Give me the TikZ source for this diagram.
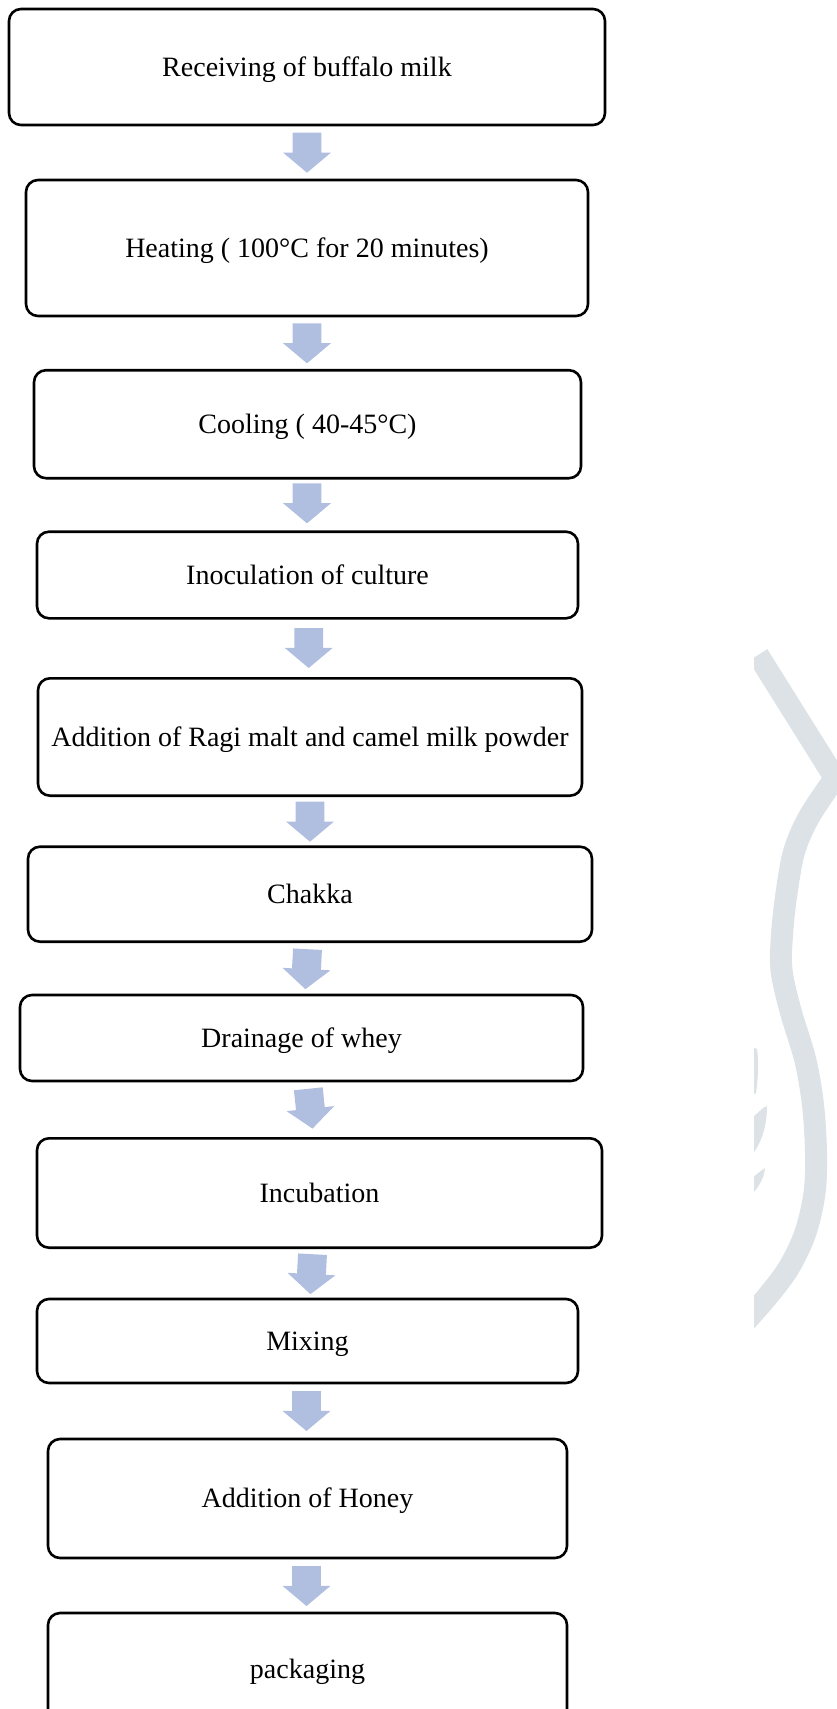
\documentclass[tikz,border=0pt]{standalone}
\usepackage{fontspec}
\setmainfont{Liberation Serif}
\usetikzlibrary{shapes.arrows}
\definecolor{arrowc}{RGB}{176,190,224}
\definecolor{wmark}{RGB}{220,226,230}
\begin{document}
\begin{tikzpicture}[x=1pt,y=-1pt,
  box/.style={draw=black, line width=2.6pt, rounded corners=12pt, inner sep=0pt,
    align=center, text height=24pt, text depth=6pt, font=\fontsize{28}{33}\selectfont},
  blockarrow/.style={single arrow, fill=arrowc, draw=none, minimum height=40pt,
    single arrow head extend=9.5pt, single arrow tip angle=100,
    inner sep=0pt, outer sep=0pt, anchor=tail}]
\useasboundingbox (0,0) rectangle (837,1709);
\clip (0,0) rectangle (837,1709);
% watermark
\begin{scope}
\clip (754,0) rectangle (837,1709);
\draw[wmark, line width=22pt, line join=miter] (758,655) -- plot[smooth, tension=0.55] coordinates
 {(835,778) (809,817) (794,852) (786,897) (782,935) (781.5,970) (790.3,1010) (805.3,1060)
  (813,1105) (816,1153) (814.5,1193) (805.3,1233) (788.7,1268) (767,1297) (745,1322)};
\fill[wmark] (752,1047) -- (757,1049) .. controls (759,1060) and (758,1080) .. (756,1093) -- (752,1095) -- cycle;
\fill[wmark] (752,1118) -- (763,1108) -- (767,1106) .. controls (767,1125) and (762,1142) .. (752,1155) -- cycle;
\fill[wmark] (752,1178) -- (762,1170) -- (765,1168) .. controls (764,1178) and (759,1187) .. (752,1194) -- cycle;
\end{scope}
% boxes
\node[box, minimum width=596pt, minimum height=116pt] (b1) at (307,67) {Receiving of buffalo milk};
\node[box, minimum width=562pt, minimum height=136pt] (b2) at (307,248) {Heating ( 100°C for 20 minutes)};
\node[box, minimum width=547pt, minimum height=108pt] (b3) at (307.5,424.2) {Cooling ( 40-45°C)};
\node[box, minimum width=541pt, minimum height=86.6pt] (b4) at (307.5,575) {Inoculation of culture};
\node[box, minimum width=544pt, minimum height=117.4pt] (b5) at (310,737) {Addition of Ragi malt and camel milk powder};
\node[box, minimum width=564pt, minimum height=95pt] (b6) at (310,894.2) {Chakka};
\node[box, minimum width=563pt, minimum height=86pt] (b7) at (301.5,1038) {Drainage of whey};
\node[box, minimum width=565pt, minimum height=109.4pt] (b8) at (319.5,1193) {Incubation};
\node[box, minimum width=541pt, minimum height=84pt] (b9) at (307.5,1341) {Mixing};
\node[box, minimum width=519pt, minimum height=119pt] (b10) at (307.5,1498.5) {Addition of Honey};
\node[box, minimum width=519pt, minimum height=112pt] (b11) at (307.5,1669) {packaging};
% block arrows between boxes (placed by their tail)
\node[blockarrow, rotate=-90] (a1) at (307,132.7) {\rule{0pt}{28.5pt}};
\node[blockarrow, rotate=-90] (a2) at (307,323.3) {\rule{0pt}{28.5pt}};
\node[blockarrow, rotate=-90] (a3) at (307,483.3) {\rule{0pt}{28.5pt}};
\node[blockarrow, rotate=-90] (a4) at (308.7,628) {\rule{0pt}{28.5pt}};
\node[blockarrow, rotate=-90] (a5) at (310,801.7) {\rule{0pt}{28.5pt}};
\node[blockarrow, rotate=-93] (a6) at (307.5,949.2) {\rule{0pt}{28.5pt}};
\node[blockarrow, rotate=-84] (a7) at (308.3,1088.8) {\rule{0pt}{28.5pt}};
\node[blockarrow, rotate=-93] (a8) at (312.5,1254.2) {\rule{0pt}{28.5pt}};
\node[blockarrow, rotate=-90] (a9) at (306.5,1391) {\rule{0pt}{28.5pt}};
\node[blockarrow, rotate=-90] (a10) at (306.5,1566) {\rule{0pt}{28.5pt}};
\end{tikzpicture}
\end{document}
